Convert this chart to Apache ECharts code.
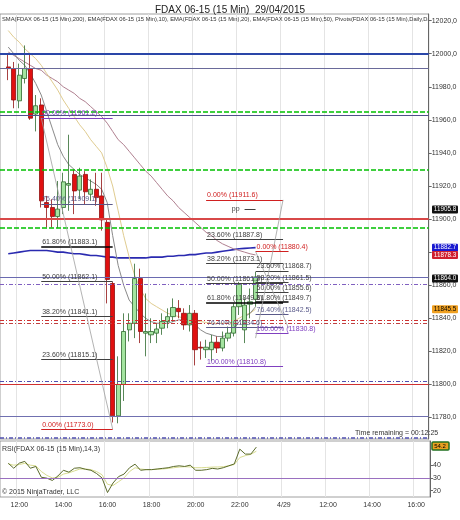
<!DOCTYPE html>
<html>
<head>
<meta charset="utf-8">
<script src="https://cdn.jsdelivr.net/npm/echarts@6/dist/echarts.min.js"></script>
<style>html,body{margin:0;padding:0;background:#fff}#main{width:460px;height:520px}</style>
</head>
<body>
<div id="main"></div>
<script>
// x-axis: 15 min slots, ticks every 8 slots
const slotCount = 78;
const tickLabels = ['12:00', '14:00', '16:00', '18:00', '20:00', '22:00', '4/29', '12:00', '14:00', '16:00'];
const firstTick = 3;

// candles [open, close, low, high], starting at slot 1
const candles = [
  [11992, 11991, 11984, 12000],
  [11991, 11972, 11967, 11995],
  [11971.5, 11987, 11967, 11994],
  [11985, 11991, 11982, 12005],
  [11991, 11961, 11960, 12000],
  [11963.5, 11968.5, 11953, 11975],
  [11969, 11911, 11907, 11973],
  [11910, 11907, 11895, 11914],
  [11907, 11901.5, 11895, 11912],
  [11901.5, 11906, 11894.5, 11923],
  [11907, 11922.5, 11903, 11928],
  [11920.5, 11921.5, 11905, 11951],
  [11927, 11917, 11903, 11930],
  [11917.5, 11926, 11912, 11931],
  [11927, 11916.5, 11909, 11929],
  [11915, 11918, 11911, 11924],
  [11918, 11913, 11908, 11928],
  [11914, 11899.5, 11893, 11928],
  [11898, 11863.5, 11849, 11900],
  [11861, 11781, 11777, 11862],
  [11781, 11800, 11776.5, 11817],
  [11800, 11832, 11790, 11843],
  [11833, 11837, 11826, 11843],
  [11837, 11864, 11828, 11873],
  [11864, 11832, 11825, 11870],
  [11831, 11832, 11817, 11855],
  [11830, 11832, 11825, 11840],
  [11831, 11833.5, 11825, 11837],
  [11834, 11838, 11830, 11843],
  [11838, 11841, 11834, 11846],
  [11841, 11846.5, 11838, 11852],
  [11846, 11844, 11840, 11851],
  [11843, 11836, 11833, 11846],
  [11836, 11843, 11832, 11848],
  [11843, 11821, 11811.5, 11845],
  [11822.5, 11822, 11815, 11826],
  [11821, 11822.5, 11816, 11827],
  [11821, 11825.5, 11814, 11830],
  [11825.5, 11822, 11819, 11829],
  [11822, 11828, 11820, 11832],
  [11828, 11831, 11826, 11835],
  [11831, 11847, 11829, 11849],
  [11847, 11860.5, 11842, 11862],
  [11833, 11848, 11825, 11852],
  [11848.5, 11850, 11840, 11858],
  [11851.5, 11865, 11847, 11868]
];
const sma200 = [11879, 11879.5, 11880, 11880.5, 11881, 11881, 11881, 11881, 11880.5, 11880, 11880, 11879.5, 11879, 11879, 11878.5, 11878, 11878, 11877.5, 11877, 11877, 11876.5, 11876.5, 11876.5, 11876.5, 11876.5, 11876.5, 11877, 11877, 11877, 11877.5, 11877.5, 11878, 11878, 11878.5, 11878.5, 11879, 11879.5, 11879.5, 11880, 11880.5, 11881, 11881.5, 11882, 11882.3, 11882.5, 11882.7];
const ema10 = [12004, 12000, 11996, 11993, 11988, 11982, 11975, 11965, 11955, 11945, 11938, 11933, 11930, 11927, 11925, 11923, 11921, 11918, 11910, 11890, 11872, 11860, 11851, 11847, 11843, 11840, 11838, 11837, 11837, 11837, 11838, 11839, 11839, 11839, 11836, 11833, 11831, 11830, 11829, 11829, 11830, 11833, 11838, 11841, 11843, 11847];
const ema20 = [12014, 12010, 12007, 12003, 12000, 11997, 11993, 11988, 11983, 11978, 11972, 11967, 11962, 11957, 11953, 11948, 11944, 11940, 11931, 11920, 11905, 11890, 11877, 11866, 11858, 11852, 11849, 11847, 11845, 11843, 11842, 11841, 11840, 11839, 11838.5, 11838, 11837.5, 11837, 11837, 11837, 11837, 11838, 11840, 11842, 11843, 11845.5];
const ema50 = [12001, 11999, 11997, 11995, 11993, 11991, 11990, 11987, 11985, 11983, 11980, 11978, 11976, 11973, 11971, 11968, 11965, 11962, 11958, 11953, 11948, 11945, 11941, 11937, 11933, 11929, 11926, 11922, 11918, 11914, 11911, 11907, 11904, 11901, 11898, 11895, 11892, 11890, 11887, 11885, 11883.5, 11882, 11881, 11880, 11879, 11878.3];
const rsi = [41.5, 37.6, 41.6, 43, 37.6, 39, 30.5, 29.8, 28, 31.5, 36, 34.5, 37.6, 38, 36.8, 36, 33.5, 30, 18.5, 26, 31, 33, 38, 40.8, 36, 36.5, 36.5, 37, 37.5, 38, 39, 39.5, 39, 40, 36, 36, 36.5, 37.5, 37, 38, 39.5, 41, 52.6, 48.7, 48.7, 54.2];
const rsiAvg = [41, 40, 40.5, 41.5, 40, 39.5, 35, 32, 30, 30.5, 33, 34, 35.5, 37, 37, 36.5, 35, 32.5, 25, 24, 27, 30, 35, 38, 37, 36.5, 36.5, 36.8, 37, 37.5, 38, 38.5, 38.8, 38.6, 38, 38, 38.2, 38.5, 38.6, 38.8, 39.5, 40.5, 46, 47.5, 48.5, 51];
const priceTicks = [11780, 11800, 11820, 11840, 11860, 11880, 11900, 11920, 11940, 11960, 11980, 12000, 12020];
const rsiTicks = [20, 30, 40];

// horizontal pivot / level lines: [value, colour, width, dash]
const levels = [
  [12000, '#2a46a8', 2, 'solid'],
  [11991, '#6a6a9a', 1, 'solid'],
  [11965, '#00c000', 1.5, [5, 2]],
  [11963, '#50508a', 1, 'solid'],
  [11930, '#00c000', 1.5, [5, 2]],
  [11900, '#d84848', 2, 'solid'],
  [11895, '#00c000', 1.5, [5, 2]],
  [11865, '#6a6ab0', 1, 'solid'],
  [11860.5, '#8060c0', 1, [4, 2, 1, 2]],
  [11839, '#d03030', 1, [4, 2, 1, 2]],
  [11837, '#c04040', 1, [4, 2, 1, 2]],
  [11802, '#5050b0', 1, [4, 2, 1, 2]],
  [11800, '#d03030', 1, 'solid'],
  [11780.5, '#7070b0', 1, 'solid'],
  [11767.5, '#5050b0', 1.5, [4, 2, 1, 2]]
];

// fib retracement levels: [from slot, to slot, value, text, colour, width]
const fibs = [
  [7, 20, 11961.2, '00.00% (11961.2)', '#8040c0', 1],
  [7, 20, 11909.1, '76.40% (11909.1)', '#5a5a8a', 1],
  [7, 20, 11883.1, '61.80% (11883.1)', '#000000', 1.5],
  [7, 20, 11862.1, '50.00% (11862.1)', '#404040', 1],
  [7, 20, 11841.1, '38.20% (11841.1)', '#404040', 1],
  [7, 20, 11815.1, '23.60% (11815.1)', '#404040', 1],
  [7, 20, 11773.0, '0.00% (11773.0)', '#d02020', 1],
  [37, 51, 11911.6, '0.00% (11911.6)', '#d02020', 1],
  [37, 51, 11887.8, '23.60% (11887.8)', '#404040', 1],
  [37, 51, 11873.1, '38.20% (11873.1)', '#404040', 1],
  [37, 51, 11861.2, '50.00% (11861.2)', '#404040', 1],
  [37, 51, 11849.3, '61.80% (11849.3)', '#000000', 1.5],
  [37, 51, 11834.6, '76.40% (11834.6)', '#5a5a8a', 1],
  [37, 51, 11810.8, '100.00% (11810.8)', '#8040c0', 1],
  [46, 52, 11880.4, '0.00% (11880.4)', '#d02020', 1],
  [46, 52, 11868.7, '23.60% (11868.7)', '#404040', 1],
  [46, 52, 11861.5, '38.20% (11861.5)', '#404040', 1],
  [46, 52, 11855.6, '50.00% (11855.6)', '#404040', 1],
  [46, 52, 11849.7, '61.80% (11849.7)', '#000000', 1.5],
  [46, 52, 11842.5, '76.40% (11842.5)', '#5a5a8a', 1],
  [46, 52, 11830.8, '100.00% (11830.8)', '#8040c0', 1]
];
// fib trend lines: [slot a, value a, slot b, value b]
const trends = [
  [7, 11961.2, 20, 11773.0],
  [46, 11828, 51, 11911.6],
  [46, 11880.4, 52, 11834]
];
// price boxes on the right axis: [value, text, fill, text colour]
const boxes = [
  [11905.8, '11905.8', '#111111', '#fff'],
  [11882.7, '11882.7', '#1a1ad0', '#fff'],
  [11878.3, '11878.3', '#d02030', '#fff'],
  [11864.0, '11864.0', '#111111', '#fff'],
  [11845.5, '11845.5', '#f0a020', '#000']
];

const slots = [];
for (let i = 0; i < slotCount; i++) slots.push(i);
const pad = arr => [null].concat(arr);
const isTick = i => i >= firstTick && (i - firstTick) % 8 === 0;
const fmt = v => v.toFixed(1).replace('.', ',');
const FONT = 'Liberation Sans';

const levelLines = levels.map(l => ({
  yAxis: l[0], lineStyle: { color: l[1], width: l[2], type: l[3], opacity: 1 }
}));
const fibLines = fibs.map(f => [
  { coord: [f[0], f[2]], lineStyle: { color: f[4], width: f[5], type: 'solid' },
    label: { show: true, formatter: f[3], position: 'insideStartTop', color: f[4] === '#000000' ? '#404040' : f[4], fontSize: 7, fontFamily: FONT, distance: 1 } },
  { coord: [f[1], f[2]] }
]);
const trendLines = trends.map(t => [
  { coord: [t[0], t[1]], lineStyle: { color: '#a0a0a0', width: 0.8, type: 'solid' } },
  { coord: [t[2], t[3]] }
]);
const ppLine = [[
  { coord: [44, 11905.8], lineStyle: { color: '#404040', width: 1, type: 'solid' },
    label: { show: true, formatter: 'pp', position: 'start', color: '#404040', fontSize: 7, fontFamily: FONT } },
  { coord: [46, 11905.8] }
]];

const xAxisBase = {
  type: 'category', data: slots, boundaryGap: true,
  axisTick: { show: false },
  axisLine: { show: false },
  splitLine: { show: true, interval: (i) => isTick(i), lineStyle: { color: '#e4e4e4', width: 1 } }
};

const option = {
  animation: false,
  backgroundColor: '#fff',
  title: {
    text: 'FDAX 06-15 (15 Min)  29/04/2015', left: 'center', top: 0,
    textStyle: { fontSize: 10, fontWeight: 'normal', color: '#222', fontFamily: FONT }
  },
  grid: [
    { left: 0, right: 30, top: 14, height: 425, show: true, borderColor: '#888', borderWidth: 0.8 },
    { left: 0, right: 30, top: 441, height: 56, show: true, borderColor: '#888', borderWidth: 0.8 }
  ],
  xAxis: [
    Object.assign({}, xAxisBase, { gridIndex: 0, axisLabel: { show: false } }),
    Object.assign({}, xAxisBase, {
      gridIndex: 1,
      axisLabel: {
        interval: (i) => isTick(i), fontSize: 7, color: '#333', fontFamily: FONT, margin: 5,
        formatter: (v, i) => tickLabels[(i - firstTick) / 8]
      }
    })
  ],
  yAxis: [
    {
      gridIndex: 0, type: 'value', position: 'right', min: 11767, max: 12024,
      axisLine: { show: true, lineStyle: { color: '#666' } },
      axisTick: { show: true, customValues: priceTicks, length: 3, lineStyle: { color: '#666' } },
      axisLabel: { customValues: priceTicks, formatter: fmt, fontSize: 7, color: '#333', fontFamily: FONT, margin: 3 },
      splitLine: { show: false }
    },
    {
      gridIndex: 1, type: 'value', position: 'right', min: 15, max: 59,
      axisLine: { show: true, lineStyle: { color: '#666' } },
      axisTick: { show: true, customValues: rsiTicks, length: 3, lineStyle: { color: '#666' } },
      axisLabel: { customValues: rsiTicks, fontSize: 7, color: '#333', fontFamily: FONT, margin: 3 },
      splitLine: { show: false }
    }
  ],
  series: [
    {
      name: 'levels', type: 'line', data: [], xAxisIndex: 0, yAxisIndex: 0,
      markLine: { silent: true, symbol: 'none', label: { show: false }, data: levelLines.concat(fibLines, trendLines, ppLine) }
    },
    { name: 'SMA200', type: 'line', data: pad(sma200), showSymbol: false, lineStyle: { color: '#2a2ab0', width: 1.6 }, z: 3 },
    { name: 'EMA50', type: 'line', data: pad(ema50), showSymbol: false, lineStyle: { color: '#b08090', width: 1 }, z: 3 },
    { name: 'EMA20', type: 'line', data: pad(ema20), showSymbol: false, lineStyle: { color: '#e0cc90', width: 1 }, z: 3 },
    { name: 'EMA10', type: 'line', data: pad(ema10), showSymbol: false, lineStyle: { color: '#8a8a8a', width: 1 }, z: 3 },
    {
      name: 'FDAX', type: 'candlestick', data: ['-'].concat(candles), barWidth: 4.8, z: 4,
      itemStyle: { color: '#a4e4a0', color0: '#e01010', borderColor: '#2f6a2f', borderColor0: '#901010', borderWidth: 0.8 }
    },
    {
      name: 'RSI30', type: 'line', xAxisIndex: 1, yAxisIndex: 1, data: [],
      markLine: { silent: true, symbol: 'none', label: { show: false }, data: [{ yAxis: 30, lineStyle: { color: '#9a70c0', width: 1, type: 'solid' } }] }
    },
    { name: 'RSIavg', type: 'line', xAxisIndex: 1, yAxisIndex: 1, data: pad(rsiAvg), showSymbol: false, lineStyle: { color: '#d8dc90', width: 1 } },
    { name: 'RSI', type: 'line', xAxisIndex: 1, yAxisIndex: 1, data: pad(rsi), showSymbol: false, lineStyle: { color: '#5a6a2a', width: 1 } }
  ]
};

const chart = echarts.init(document.getElementById('main'));
chart.setOption(option);

const txt = (x, y, s, size) => ({
  type: 'text', x, y, silent: true,
  style: { text: s, fontSize: size || 7, fill: '#333', fontFamily: FONT }
});
const graphics = [
  {
    type: 'group', x: 0, y: 0, clipPath: { type: 'rect', shape: { x: 0, y: 0, width: 429, height: 30 } },
    children: [txt(2, 16, 'SMA(FDAX 06-15 (15 Min),200), EMA(FDAX 06-15 (15 Min),10), EMA(FDAX 06-15 (15 Min),20), EMA(FDAX 06-15 (15 Min),50), Pivots(FDAX 06-15 (15 Min),Daily,DailyBars,0', 5.8)]
  },
  txt(2, 446, 'RSI(FDAX 06-15 (15 Min),14,3)'),
  txt(2, 489, '\u00a9 2015 NinjaTrader, LLC'),
  txt(355, 430, 'Time remaining = 00:12:25')
];
boxes.forEach(b => {
  const p = chart.convertToPixel({ gridIndex: 0 }, [0, b[0]]);
  graphics.push({ type: 'rect', silent: true, shape: { x: 432, y: p[1] - 4, width: 26, height: 8, r: 1 }, style: { fill: b[2] }, z: 10 });
  graphics.push({ type: 'text', silent: true, x: 445, y: p[1], z: 11, style: { text: b[1], fontSize: 6.3, fill: b[3], fontFamily: FONT, align: 'center', verticalAlign: 'middle' } });
});
const rp = chart.convertToPixel({ gridIndex: 1 }, [0, rsi[rsi.length - 1]]);
graphics.push({ type: 'rect', silent: true, shape: { x: 432, y: rp[1] - 5, width: 17, height: 8, r: 1 }, style: { fill: '#e8a020', stroke: '#207020', lineWidth: 1.5 }, z: 10 });
graphics.push({ type: 'text', silent: true, x: 440, y: rp[1] - 1, z: 11, style: { text: '54.2', fontSize: 6, fill: '#000', fontFamily: FONT, align: 'center', verticalAlign: 'middle' } });
chart.setOption({ graphic: graphics });
</script>
</body>
</html>
